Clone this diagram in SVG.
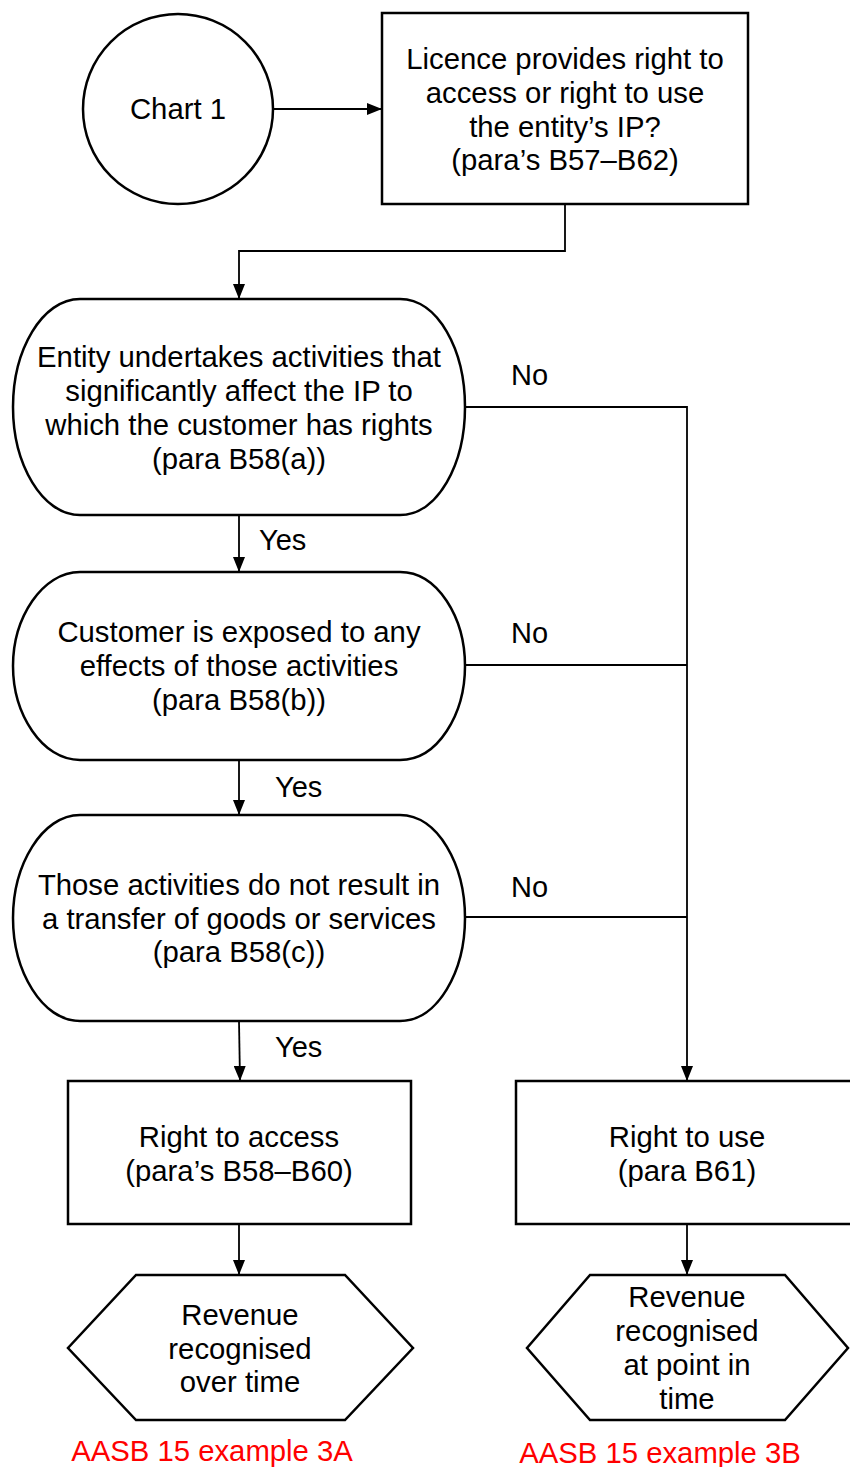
<svg xmlns="http://www.w3.org/2000/svg" width="850" height="1467" viewBox="0 0 850 1467">
<style>
.s{fill:#fff;stroke:#000;stroke-width:2.5}
.c{fill:none;stroke:#000;stroke-width:1.8}
.t{font-family:"Liberation Sans",Arial,sans-serif;font-size:29.3px;fill:#000;text-anchor:middle}
.l{font-family:"Liberation Sans",Arial,sans-serif;font-size:29px;fill:#000}
.r{font-family:"Liberation Sans",Arial,sans-serif;font-size:29.3px;fill:#ff0000;text-anchor:middle}
</style>
<defs>
<marker id="a" markerUnits="userSpaceOnUse" markerWidth="15" markerHeight="12" refX="15" refY="6" orient="auto">
<path d="M0,0 L15,6 L0,12 Z" fill="#000"/>
</marker>
</defs>
<rect width="850" height="1467" fill="#fff"/>
<g id="connectors">
<path class="c" d="M274,109 H382" marker-end="url(#a)"/>
<path class="c" d="M565,204 V251 H239 V299" marker-end="url(#a)"/>
<path class="c" d="M239,515 V572" marker-end="url(#a)"/>
<path class="c" d="M239,760 V815" marker-end="url(#a)"/>
<path class="c" d="M239,1021 L240,1081" marker-end="url(#a)"/>
<path class="c" d="M465,407 H687 V1081" marker-end="url(#a)"/>
<path class="c" d="M465,665 H687"/>
<path class="c" d="M465,917 H687"/>
<path class="c" d="M239,1224 V1275" marker-end="url(#a)"/>
<path class="c" d="M687,1224 V1275" marker-end="url(#a)"/>
<text class="l" x="511" y="385">No</text>
<text class="l" x="511" y="643">No</text>
<text class="l" x="511" y="897">No</text>
<text class="l" x="259" y="550">Yes</text>
<text class="l" x="275" y="797">Yes</text>
<text class="l" x="275" y="1057">Yes</text>
</g>
<g id="start">
<circle class="s" cx="178" cy="109" r="95"/>
<text class="t" x="178" y="119">Chart 1</text>
</g>
<g id="licence">
<rect class="s" x="382" y="13" width="366" height="191"/>
<text class="t" x="565" y="69">Licence provides right to</text>
<text class="t" x="565" y="103">access or right to use</text>
<text class="t" x="565" y="137">the entity’s IP?</text>
<text class="t" x="565" y="170">(para’s B57–B62)</text>
</g>
<g id="decision-a">
<path class="s" d="M80,299 H400 C438,299 465,350 465,407 C465,464 438,515 400,515 H80 C42,515 13,464 13,407 C13,350 42,299 80,299 Z"/>
<text class="t" x="239" y="367">Entity undertakes activities that</text>
<text class="t" x="239" y="401">significantly affect the IP to</text>
<text class="t" x="239" y="435">which the customer has rights</text>
<text class="t" x="239" y="469">(para B58(a))</text>
</g>
<g id="decision-b">
<path class="s" d="M80,572 H400 C438,572 465,618 465,666 C465,714 438,760 400,760 H80 C42,760 13,714 13,666 C13,618 42,572 80,572 Z"/>
<text class="t" x="239" y="642">Customer is exposed to any</text>
<text class="t" x="239" y="676">effects of those activities</text>
<text class="t" x="239" y="710">(para B58(b))</text>
</g>
<g id="decision-c">
<path class="s" d="M80,815 H400 C438,815 465,865 465,918 C465,971 438,1021 400,1021 H80 C42,1021 13,971 13,918 C13,865 42,815 80,815 Z"/>
<text class="t" x="239" y="895">Those activities do not result in</text>
<text class="t" x="239" y="929">a transfer of goods or services</text>
<text class="t" x="239" y="962">(para B58(c))</text>
</g>
<g id="right-access">
<rect class="s" x="68" y="1081" width="343" height="143"/>
<text class="t" x="239" y="1147">Right to access</text>
<text class="t" x="239" y="1181">(para’s B58–B60)</text>
</g>
<g id="right-use">
<rect class="s" x="516" y="1081" width="340" height="143"/>
<text class="t" x="687" y="1147">Right to use</text>
<text class="t" x="687" y="1181">(para B61)</text>
</g>
<g id="revenue-over-time">
<path class="s" d="M136,1275 H345 L413,1348 L345,1420 H136 L68,1348 Z"/>
<text class="t" x="240" y="1325">Revenue</text>
<text class="t" x="240" y="1359">recognised</text>
<text class="t" x="240" y="1392">over time</text>
</g>
<g id="revenue-point">
<path class="s" d="M590,1275 H785 L848,1348 L785,1420 H590 L527,1348 Z"/>
<text class="t" x="687" y="1307">Revenue</text>
<text class="t" x="687" y="1341">recognised</text>
<text class="t" x="687" y="1375">at point in</text>
<text class="t" x="687" y="1409">time</text>
</g>
<g id="example-3a">
<text class="r" x="212" y="1461">AASB 15 example 3A</text>
</g>
<g id="example-3b">
<text class="r" x="660" y="1463">AASB 15 example 3B</text>
</g>
</svg>
